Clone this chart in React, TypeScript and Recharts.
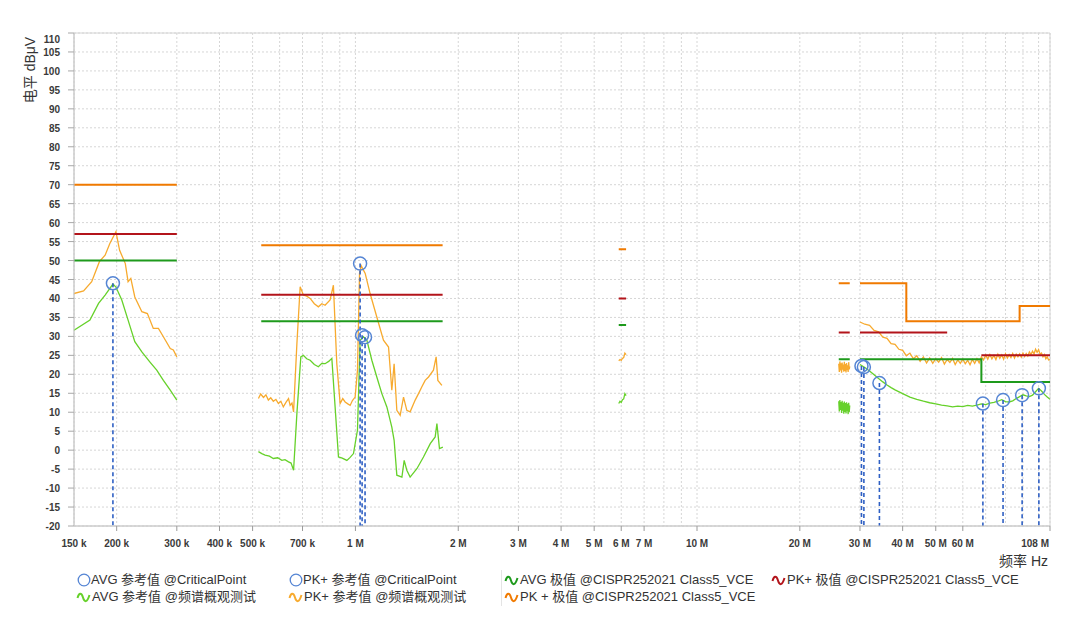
import React from 'react';
import {
  CartesianGrid,
  ComposedChart,
  Line,
  ReferenceArea,
  ReferenceLine,
  Scatter,
  XAxis,
  YAxis,
} from 'recharts';

const FONT = '"Liberation Sans", "Noto Sans CJK SC", sans-serif';

// axis ticks (Hz / dBuV); every x tick gets a grid line, only some get a label
const xTicks = [
  150e3, 200e3, 300e3, 400e3, 500e3, 600e3, 700e3, 800e3, 900e3,
  1e6, 2e6, 3e6, 4e6, 5e6, 6e6, 7e6, 8e6, 9e6,
  10e6, 20e6, 30e6, 40e6, 50e6, 60e6, 70e6, 80e6, 90e6, 100e6, 108e6,
];
const xTickLabels: Record<number, string> = {
  150000: '150 k', 200000: '200 k', 300000: '300 k', 400000: '400 k',
  500000: '500 k', 700000: '700 k', 1000000: '1 M', 2000000: '2 M',
  3000000: '3 M', 4000000: '4 M', 5000000: '5 M', 6000000: '6 M',
  7000000: '7 M', 10000000: '10 M', 20000000: '20 M', 30000000: '30 M',
  40000000: '40 M', 50000000: '50 M', 60000000: '60 M', 108000000: '108 M',
};
const yTicks = [-20, -15, -10, -5, 0, 5, 10, 15, 20, 25, 30, 35, 40, 45, 50, 55, 60, 65, 70, 75, 80, 85, 90, 95, 100, 105, 110];

// limits: [start kHz, end kHz, level dBuV]
const avgLimit = [
  [150, 300, 50], [530, 1800, 34], [5900, 6200, 33], [26000, 28000, 24],
  [30000, 68000, 24], [68000, 108000, 18],
];
const pkQLimit = [
  [150, 300, 57], [530, 1800, 41], [5900, 6200, 40], [26000, 28000, 31],
  [30000, 54000, 31], [68000, 108000, 25],
];
const pkLimit = [
  [150, 300, 70], [530, 1800, 54], [5900, 6200, 53], [26000, 28000, 44],
  [30000, 41000, 44], [41000, 88000, 34], [88000, 108000, 38],
];

// measured PK+ : [kHz, dBuV]
const pkLw = [
  [150, 41.3], [160, 42.0], [169, 44.4], [178, 49.7], [185, 51.4], [191, 54.5],
  [199, 57.6], [204, 52.7], [212, 49.2], [216, 44.4], [220, 45.3], [226, 40.4],
  [237, 36.5], [246, 36.0], [256, 32.1], [265, 32.1], [274, 29.9], [287, 26.8],
  [293, 26.4], [300, 24.6],
];
const pkMw = [
  [520, 13.6], [528, 14.8], [538, 13.9], [547, 14.6], [556, 13.2], [565, 13.8],
  [575, 12.9], [585, 13.4], [595, 12.3], [605, 12.9], [615, 11.4], [626, 12.6],
  [637, 13.6], [644, 11.8], [652, 12.4], [659, 10.1], [674, 28.1], [689, 43.1],
  [704, 40.9], [720, 40.6], [737, 40.0], [758, 38.6], [779, 37.8], [797, 38.6],
  [815, 38.2], [843, 39.6], [862, 43.5], [882, 22.8], [902, 12.3], [918, 13.6],
  [933, 12.7], [950, 12.2], [965, 11.8], [980, 13.1], [998, 14.0], [1014, 21.1],
  [1028, 46.6], [1040, 48.6], [1068, 46.6], [1104, 41.3], [1155, 35.1],
  [1208, 29.0], [1250, 27.2], [1278, 15.8], [1298, 22.8], [1322, 10.5],
  [1352, 9.2], [1383, 14.0], [1414, 10.5], [1446, 10.1], [1496, 13.2],
  [1530, 14.9], [1565, 16.7], [1600, 18.4], [1637, 19.3], [1692, 21.1],
  [1723, 24.6], [1743, 18.4], [1791, 17.1],
];
const pk6M = [[5900, 23.6], [5950, 23.9], [6000, 23.7], [6050, 24.2], [6100, 24.4], [6150, 25.6], [6200, 25.2]];
const pk27M = [
  [26000, 22.8], [26100, 20.6], [26200, 23.4], [26300, 21.0], [26400, 22.9],
  [26500, 20.4], [26600, 23.1], [26700, 21.2], [26800, 22.6], [26900, 20.7],
  [27000, 23.3], [27100, 20.9], [27200, 22.7], [27300, 20.5], [27400, 23.0],
  [27500, 21.1], [27600, 22.4], [27700, 20.6], [27800, 23.2], [27900, 21.3],
  [28000, 22.1],
];
const pkHi = [
  [30000, 33.8], [31000, 33.2], [32000, 32.9], [33000, 31.6], [34000, 31.2],
  [35000, 29.8], [36000, 29.5], [37000, 28.1], [38000, 27.9], [39000, 26.6],
  [40000, 26.3], [41000, 24.9], [42000, 25.6], [43000, 24.1], [44000, 24.9],
  [45000, 23.4], [46000, 24.6], [47000, 23.0], [48000, 24.3], [49000, 22.9],
  [50000, 24.1], [51000, 23.2], [52000, 24.4], [53000, 22.7], [54000, 23.9],
  [55000, 23.1], [56000, 24.2], [57000, 22.6], [58000, 23.8], [59000, 22.9],
  [60000, 24.0], [61000, 22.8], [62000, 23.7], [63000, 22.5], [64000, 23.9],
  [65000, 22.9], [66000, 24.1], [67000, 23.0], [68000, 24.6], [69000, 23.8],
  [70000, 25.1], [71000, 24.0], [72000, 25.2], [73000, 24.1], [74000, 25.0],
  [75000, 23.9], [76000, 25.3], [77000, 24.2], [78000, 25.1], [79000, 24.0],
  [80000, 25.4], [81000, 24.3], [82000, 25.2], [83000, 24.4], [84000, 25.5],
  [85000, 24.3], [86000, 25.3], [87000, 24.6], [88000, 25.4], [89000, 24.5],
  [90000, 25.6], [91000, 24.7], [92000, 25.5], [93000, 24.8], [94000, 25.9],
  [95000, 25.2], [96000, 26.1], [97000, 25.4], [98000, 26.6], [99000, 25.8],
  [100000, 26.5], [101000, 25.3], [102000, 25.6], [103000, 24.6], [104000, 25.2],
  [105000, 24.1], [106000, 24.6], [107000, 23.8], [108000, 23.9],
];

// measured AVG : [kHz, dBuV]
const avgLw = [
  [150, 31.6], [167, 34.3], [177, 38.7], [185, 40.9], [195, 43.8], [199, 43.0],
  [207, 39.6], [216, 34.3], [226, 28.6], [237, 25.9], [250, 23.3], [262, 21.1],
  [274, 18.4], [287, 15.8], [300, 13.2],
];
const avgMw = [
  [520, -0.4], [532, -0.9], [544, -1.3], [560, -1.6], [575, -2.2], [592, -2.0],
  [609, -2.7], [622, -2.5], [637, -3.1], [648, -3.4], [659, -5.3], [674, 9.7],
  [692, 24.6], [704, 25.0], [720, 24.1], [737, 23.7], [758, 22.6], [779, 22.0],
  [797, 22.9], [815, 22.8], [835, 23.4], [853, 24.2], [872, 11.4], [892, -1.8],
  [915, -2.1], [944, -2.7], [965, -1.9], [987, -0.9], [1014, 5.3], [1032, 29.0],
  [1055, 29.9], [1080, 29.0], [1117, 23.7], [1155, 19.3], [1195, 14.9],
  [1236, 11.4], [1278, 6.1], [1298, 2.6], [1322, -6.6], [1368, -7.1],
  [1389, -2.7], [1414, -5.3], [1446, -7.1], [1513, -4.9], [1582, -1.8],
  [1656, 1.7], [1712, 3.5], [1732, 7.0], [1762, 0.4], [1803, 0.8],
];
const avg6M = [[5900, 12.3], [5950, 12.9], [6000, 12.6], [6050, 13.3], [6100, 13.5], [6150, 14.9], [6200, 14.4]];
const avg27M = [
  [26000, 12.9], [26100, 10.2], [26200, 13.2], [26300, 10.6], [26400, 12.7],
  [26500, 9.8], [26600, 13.0], [26700, 10.4], [26800, 12.5], [26900, 9.6],
  [27000, 12.8], [27100, 10.1], [27200, 12.4], [27300, 9.7], [27400, 12.6],
  [27500, 10.3], [27600, 12.2], [27700, 9.5], [27800, 12.5], [27900, 10.0],
  [28000, 11.8],
];
const avgHi = [
  [30000, 22.6], [31000, 21.8], [32000, 20.9], [33000, 19.9], [34000, 18.9],
  [35000, 18.0], [36000, 17.2], [37000, 16.5], [38000, 15.9], [40000, 14.9],
  [42000, 14.0], [44000, 13.4], [46000, 12.9], [48000, 12.5], [50000, 12.2],
  [52000, 11.9], [54000, 11.7], [56000, 11.4], [58000, 11.6], [60000, 11.5],
  [62000, 11.8], [64000, 11.6], [66000, 11.9], [68000, 12.2], [70000, 12.0],
  [72000, 12.4], [74000, 12.6], [76000, 12.9], [78000, 13.3], [80000, 12.8],
  [82000, 12.7], [84000, 13.0], [86000, 13.6], [88000, 14.1], [90000, 14.6],
  [92000, 14.3], [94000, 14.1], [96000, 14.5], [98000, 15.4], [100000, 16.3],
  [102000, 15.6], [104000, 14.7], [106000, 14.0], [108000, 13.4],
];

// critical points: [kHz, dBuV]
const avgCritical = [
  [195, 44.0], [1046, 30.3], [1067, 29.8], [30300, 22.2], [30800, 21.9],
  [34200, 17.7], [68700, 12.3], [78700, 13.2], [89500, 14.5], [100200, 16.3],
];
const pkCritical = [[1032, 49.2]];

type Pt = { f: number; v: number | null };

function limitData(segs: number[][]): Pt[] {
  const out: Pt[] = [];
  segs.forEach(([a, b, v], i) => {
    if (i > 0 && segs[i - 1][1] !== a) out.push({ f: a * 1000, v: null });
    out.push({ f: a * 1000, v }, { f: b * 1000, v });
  });
  return out;
}

function joinRegions(regions: number[][][]): Pt[] {
  const out: Pt[] = [];
  regions.forEach((r, i) => {
    if (i > 0) out.push({ f: r[0][0] * 1000, v: null });
    r.forEach(([k, v]) => out.push({ f: k * 1000, v }));
  });
  return out;
}

const toPts = (arr: number[][]) => arr.map(([k, v]) => ({ f: k * 1000, v }));

const pkData = joinRegions([pkLw, pkMw, pk6M, pk27M, pkHi]);
const avgData = joinRegions([avgLw, avgMw, avg6M, avg27M, avgHi]);
const critPts = [...toPts(avgCritical), ...toPts(pkCritical)];

const C_AVG = '#66d12a';
const C_PK = '#f7aa2e';
const C_AVG_LIM = '#1e9a1c';
const C_PKQ_LIM = '#b3141b';
const C_PK_LIM = '#f07a00';
const C_CRIT = '#5585d4';
const C_DASH = '#2f60c4';

function XTick(props: any) {
  const { x, y, payload } = props;
  const label = xTickLabels[payload.value];
  if (!label) return null;
  const first = payload.value === xTicks[0];
  const last = payload.value === xTicks[xTicks.length - 1];
  return (
    <g>
      {!first && <line x1={x} x2={x} y1={y} y2={y + 5} stroke='#9a9a9a' />}
      <text
        x={last ? x - 1 : x}
        y={y + 21}
        textAnchor={last ? 'end' : 'middle'}
        fontSize={10}
        fontWeight='bold'
        fill='#3a3a3a'
        fontFamily={FONT}
      >
        {label}
      </text>
    </g>
  );
}

function YTick(props: any) {
  const { x, y, payload } = props;
  const shift = payload.value === 110 ? 6 : 0;
  return (
    <text
      x={x}
      y={y + 4 + shift}
      textAnchor='end'
      fontSize={10}
      fontWeight='bold'
      fill='#3a3a3a'
      fontFamily={FONT}
    >
      {payload.value}
    </text>
  );
}

function CritDot(props: any) {
  const { cx, cy } = props;
  if (cx == null || cy == null) return null;
  return <circle cx={cx} cy={cy} r={6.5} fill='none' stroke={C_CRIT} strokeWidth={1.5} />;
}

function Wave({ color }: { color: string }) {
  return (
    <svg width={15} height={13} style={{ marginRight: 1, flexShrink: 0 }}>
      <path d='M1.5,7 C3,1.5 5.5,1.5 7,6.5 S11,12 13.5,4' fill='none' stroke={color} strokeWidth={2} />
    </svg>
  );
}

function Ring() {
  return (
    <svg width={14} height={14} style={{ marginRight: 0, flexShrink: 0 }}>
      <circle cx={7} cy={7} r={5.8} fill='none' stroke={C_CRIT} strokeWidth={1.3} />
    </svg>
  );
}

function LegendItem({ left, top, icon, text }: { left: number; top: number; icon: React.ReactNode; text: string }) {
  return (
    <div
      style={{
        position: 'absolute',
        left,
        top,
        display: 'flex',
        alignItems: 'center',
        whiteSpace: 'nowrap',
        fontFamily: FONT,
        fontSize: 13,
        color: '#333',
        lineHeight: '16px',
      }}
    >
      {icon}
      {text}
    </div>
  );
}

export default function App() {
  return (
    <div style={{ position: 'absolute', left: 0, top: 0, width: 1080, height: 617, background: '#fff' }}>
      <ComposedChart width={1080} height={560} margin={{ top: 33, right: 30, left: 0, bottom: 0 }}>
        <CartesianGrid strokeDasharray='2 2' stroke='#d6d6d6' />
        <ReferenceArea x1={150e3} x2={108e6} y1={-20} y2={110} fill='none' stroke='#d4d4d4' />
        <XAxis
          dataKey='f'
          type='number'
          scale='log'
          domain={[150e3, 108e6]}
          allowDataOverflow
          ticks={xTicks}
          interval={0}
          tick={<XTick />}
          tickLine={false}
          tickSize={0}
          tickMargin={0}
          height={34}
          axisLine={{ stroke: '#c8c8c8' }}
        />
        <YAxis
          type='number'
          domain={[-20, 110]}
          ticks={yTicks}
          interval={0}
          width={74}
          tick={<YTick />}
          tickSize={6}
          tickMargin={8}
          tickLine={{ stroke: '#a8a8a8' }}
          axisLine={{ stroke: '#c8c8c8' }}
        />
        <Line data={avgData} dataKey='v' stroke={C_AVG} strokeWidth={1.3} dot={false} activeDot={false} isAnimationActive={false} />
        <Line data={pkData} dataKey='v' stroke={C_PK} strokeWidth={1.3} dot={false} activeDot={false} isAnimationActive={false} />
        <Line data={limitData(pkLimit)} dataKey='v' stroke={C_PK_LIM} strokeWidth={2} dot={false} activeDot={false} isAnimationActive={false} />
        <Line data={limitData(pkQLimit)} dataKey='v' stroke={C_PKQ_LIM} strokeWidth={2} dot={false} activeDot={false} isAnimationActive={false} />
        <Line data={limitData(avgLimit)} dataKey='v' stroke={C_AVG_LIM} strokeWidth={2} dot={false} activeDot={false} isAnimationActive={false} />
        {critPts.map((p) => (
          <ReferenceLine
            key={p.f}
            segment={[{ x: p.f, y: p.v }, { x: p.f, y: -20 }]}
            stroke={C_DASH}
            strokeWidth={1.6}
            strokeDasharray='4 3'
          />
        ))}
        <Scatter data={critPts} dataKey='v' shape={<CritDot />} isAnimationActive={false} />
      </ComposedChart>

      <div
        style={{
          position: 'absolute',
          left: 29,
          top: 70,
          transform: 'translate(-50%, -50%) rotate(-90deg)',
          whiteSpace: 'nowrap',
          fontFamily: FONT,
          fontSize: 14,
          color: '#333',
        }}
      >
        电平 dBμV
      </div>
      <div
        style={{
          position: 'absolute',
          right: 32,
          top: 550,
          whiteSpace: 'nowrap',
          fontFamily: FONT,
          fontSize: 14,
          color: '#333',
        }}
      >
        频率 Hz
      </div>

      <div style={{ position: 'absolute', left: 501, top: 570, width: 1, height: 36, background: '#e4e4e4' }} />
      <LegendItem left={77} top={572} icon={<Ring />} text='AVG 参考值 @CriticalPoint' />
      <LegendItem left={289} top={572} icon={<Ring />} text='PK+ 参考值 @CriticalPoint' />
      <LegendItem left={504} top={572} icon={<Wave color={C_AVG_LIM} />} text='AVG 极值 @CISPR252021 Class5_VCE' />
      <LegendItem left={771} top={572} icon={<Wave color={C_PKQ_LIM} />} text='PK+ 极值 @CISPR252021 Class5_VCE' />
      <LegendItem left={76} top={589} icon={<Wave color={C_AVG} />} text='AVG 参考值 @频谱概观测试' />
      <LegendItem left={288} top={589} icon={<Wave color={C_PK} />} text='PK+ 参考值 @频谱概观测试' />
      <LegendItem left={504} top={589} icon={<Wave color={C_PK_LIM} />} text='PK + 极值 @CISPR252021 Class5_VCE' />
    </div>
  );
}
